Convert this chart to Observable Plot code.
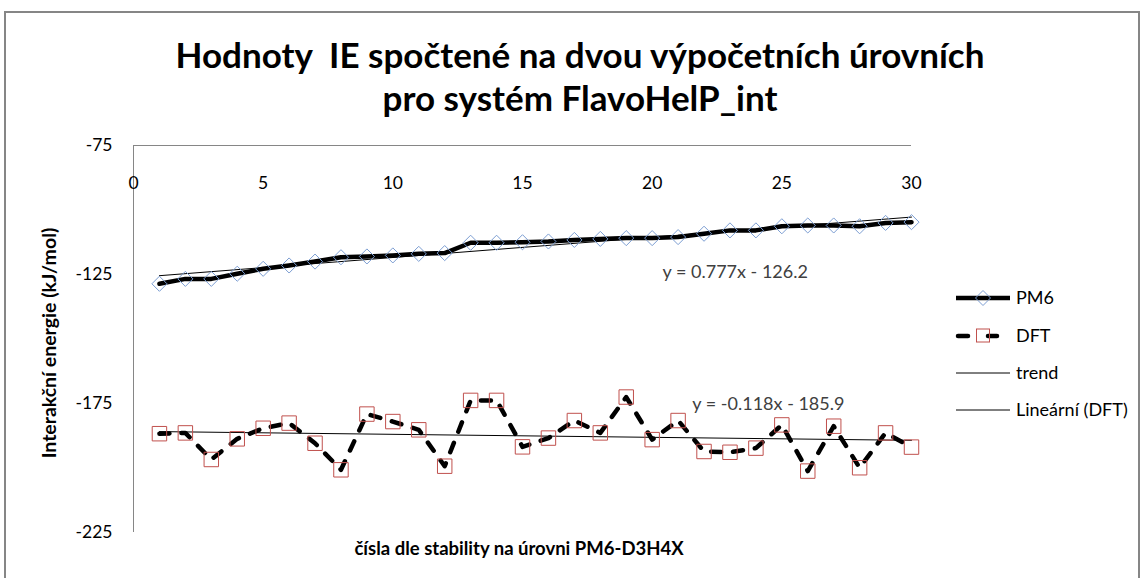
<!DOCTYPE html>
<html><head><meta charset="utf-8">
<script src="https://cdn.jsdelivr.net/npm/d3@7"></script>
<script src="https://cdn.jsdelivr.net/npm/@observablehq/plot@0.6"></script>
<style>
body{margin:0;background:#fff;font-family:Lato,"Open Sans",sans-serif;}
#wrap{position:relative;width:1142px;height:578px;overflow:hidden;background:#fff;}
#border{position:absolute;left:4px;top:11px;width:1136px;height:575px;border:2px solid #868686;box-sizing:border-box;}
#title{position:absolute;left:0;top:33px;width:1160px;text-align:center;font-weight:bold;font-size:35px;line-height:43px;color:#000;}
#chart{position:absolute;left:0;top:0;}
#legend{position:absolute;left:0;top:0;}
#ylab{position:absolute;left:48px;top:343px;transform:translate(-50%,-50%) rotate(-90deg);white-space:nowrap;font-weight:bold;font-size:19.5px;}
#xlab{position:absolute;left:519px;top:548px;transform:translate(-50%,-50%);white-space:nowrap;font-weight:bold;font-size:18.5px;}
</style></head>
<body>
<div id="wrap">
<div id="border"></div>
<div id="title">Hodnoty&nbsp; IE spočtené na dvou výpočetních úrovních<br>pro systém FlavoHelP_int</div>
<div id="chart"></div>
<div id="ylab">Interakční energie (kJ/mol)</div>
<div id="xlab">čísla dle stability na úrovni PM6-D3H4X</div>
<svg id="legend" width="1142" height="578"></svg>
</div>
<script>
const structures = [1,2,3,4,5,6,7,8,9,10,11,12,13,14,15,16,17,18,19,20,21,22,23,24,25,26,27,28,29,30];
const pm6 = [-128.6,-126.7,-126.7,-124.7,-122.8,-121.5,-120.0,-118.3,-118.0,-117.6,-117.0,-116.7,-112.7,-112.7,-112.5,
             -112.2,-111.6,-111.2,-110.9,-110.9,-110.5,-109.2,-107.9,-107.9,-106.3,-106.0,-106.0,-106.3,-105.0,-104.7];
const dft = [-186.7,-186.4,-196.7,-188.7,-184.6,-182.6,-190.4,-200.7,-179.1,-182.0,-185.2,-199.3,-173.8,-173.8,-191.8,
             -188.4,-181.6,-186.4,-172.5,-189.0,-181.6,-193.6,-193.9,-192.3,-183.3,-201.2,-183.8,-199.9,-186.4,-191.9];
const xTicks = [0,5,10,15,20,25,30];
const yTicks = [-75,-125,-175,-225];
const seriesNames = ["PM6","DFT","trend","Lineární (DFT)"];
const equations = ["y = 0.777x - 126.2","y = -0.118x - 185.9"];

const pmData = structures.map((x,i)=>({x, y: pm6[i]}));
const dftData = structures.map((x,i)=>({x, y: dft[i]}));

const diamondColor = "#7B9DD2";
const squareColor = "#C0504D";
const dashes = "10,12";

const plot = Plot.plot({
  width: 1142, height: 578,
  marginLeft: 133, marginRight: 231, marginTop: 145, marginBottom: 46,
  x: {domain: [0,30], axis: null},
  y: {domain: [-225,-75]},
  style: {fontFamily: "Lato, 'Open Sans', sans-serif", fontSize: "17px", background: "transparent", color: "#000"},
  marks: [
    Plot.ruleY([-75], {stroke: "#868686", strokeWidth: 1}),
    Plot.ruleX([0], {stroke: "#868686", strokeWidth: 1}),
    Plot.axisY(yTicks, {tickSize: 0, tickPadding: 21, label: null, tickFormat: d => String(d), fontSize: 17.5}),
    Plot.text(xTicks, {x: d => d, frameAnchor: "top", dy: 31, text: d => String(d), fontSize: 17.5}),
    Plot.line(pmData, {x: "x", y: "y", stroke: "black", strokeWidth: 4.5, strokeLinejoin: "round"}),
    Plot.line(dftData, {x: "x", y: "y", stroke: "black", strokeWidth: 4.5, strokeDasharray: dashes, strokeLinecap: "round", strokeLinejoin: "round"}),
    Plot.linearRegressionY(pmData, {x: "x", y: "y", stroke: "black", strokeWidth: 1, ci: 0}),
    Plot.linearRegressionY(dftData, {x: "x", y: "y", stroke: "black", strokeWidth: 1, ci: 0}),
    Plot.dot(pmData, {x: "x", y: "y", symbol: "diamond2", r: 6.8, stroke: diamondColor, strokeWidth: 1, fill: "none"}),
    Plot.dot(dftData, {x: "x", y: "y", symbol: "square2", r: 9.2, stroke: squareColor, strokeWidth: 1, fill: "none"}),
    Plot.text([equations[0]], {x: 20.4, y: -124.2, text: d => d, textAnchor: "start", fontSize: 18, fill: "#404040"}),
    Plot.text([equations[1]], {x: 21.55, y: -175.4, text: d => d, textAnchor: "start", fontSize: 18, fill: "#404040"})
  ]
});
document.getElementById("chart").appendChild(plot);

// Legend
const lg = d3.select("#legend");
const rowsY = [298, 336, 373, 410];
const x0 = 956, x1 = 1010, xc = 983;
seriesNames.forEach((name, i) => {
  const y = rowsY[i];
  const g = lg.append("g");
  if (i === 0) {
    g.append("line").attr("x1", x0).attr("x2", x1).attr("y1", y).attr("y2", y).attr("stroke", "black").attr("stroke-width", 4.5);
    const s = 7.5;
    g.append("path").attr("d", `M${xc},${y-s}L${xc+s},${y}L${xc},${y+s}L${xc-s},${y}Z`).attr("fill", "none").attr("stroke", diamondColor);
  } else if (i === 1) {
    g.append("line").attr("x1", x0+2).attr("x2", 968).attr("y1", y).attr("y2", y).attr("stroke", "black").attr("stroke-width", 4.5).attr("stroke-linecap", "round");
    g.append("line").attr("x1", 988).attr("x2", 997).attr("y1", y).attr("y2", y).attr("stroke", "black").attr("stroke-width", 4.5).attr("stroke-linecap", "round");
    g.append("rect").attr("x", 976.5).attr("y", y-7).attr("width", 13).attr("height", 13).attr("fill", "none").attr("stroke", squareColor);
  } else {
    g.append("line").attr("x1", x0).attr("x2", x1).attr("y1", y).attr("y2", y).attr("stroke", "black").attr("stroke-width", 1);
  }
  g.append("text").attr("x", 1016).attr("y", y).attr("dy", "0.35em").attr("font-size", 18)
    .attr("font-family", "Lato, 'Open Sans', sans-serif").attr("fill", "#000").text(name);
});
</script>
</body></html>
